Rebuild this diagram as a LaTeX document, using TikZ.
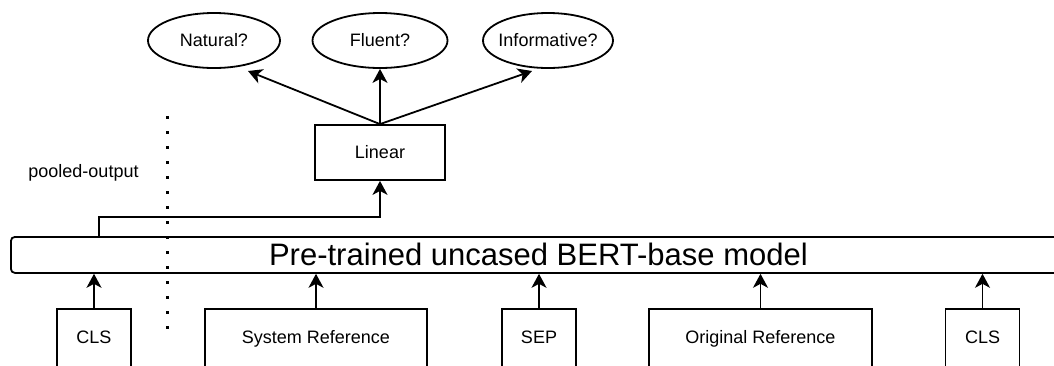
\documentclass[tikz,border=0pt]{standalone}
\usepackage{fontspec}
\setmainfont{Liberation Sans}
\usetikzlibrary{shapes.geometric,arrows.meta}
\begin{document}
\begin{tikzpicture}[x=1pt,y=-1pt, line width=1.8pt,
 every node/.style={font=\fontsize{18}{21}\selectfont},
 box/.style={draw, rectangle, inner sep=0pt},
 tok/.style={box, anchor=base, text height=34.5pt, text depth=41.5pt},
 oval/.style={draw, ellipse, inner sep=0pt, minimum height=55pt},
 arr/.style={-{Stealth[length=14pt,width=15pt,inset=4pt]}}]
\useasboundingbox (0,0) rectangle (1054,365);
% outputs
\node[oval, minimum width=132pt] (nat) at (214,40.5) {\makebox[0pt]{Natural?}};
\node[oval, minimum width=135pt] (flu) at (380,40.5) {\makebox[0pt]{Fluent?}};
\node[oval, minimum width=130pt] (inf) at (548,40.5) {\makebox[0pt]{Informative?}};
\node[box, minimum width=130pt, minimum height=55pt] (lin) at (380,152.5) {Linear};
\coordinate (natTip) at (248,71);
\coordinate (infTip) at (532,71);
\draw[arr] (lin.north) -- (natTip);
\draw[arr] (lin.north) -- (flu.south);
\draw[arr] (lin.north) -- (infTip);
% BERT
\node[draw, rounded corners=4pt, minimum width=1060pt, minimum height=36pt, inner sep=0pt,
      anchor=north west, font=\fontsize{31}{36}\selectfont] (bert) at (10,236) {\hspace*{-5pt}Pre-trained uncased BERT-base model};
% pooled output
\node (pool) at (83.5,173) {pooled-output};
\coordinate (poolStart) at (99,237);
\draw[arr] (poolStart) -- ++(0,-20) -| (lin.south);
% separator
\coordinate (dtop) at (167,116);
\coordinate (dbot) at (167,330);
\draw[line width=3pt, dash pattern=on 3pt off 12pt] (dtop) -- (dbot);
% tokens
\node[tok, minimum width=74pt] (c1) at (94,343.5) {CLS};
\node[tok, minimum width=222pt] (sr) at (316,343.5) {System Reference};
\node[tok, minimum width=74pt] (sep) at (539,343.5) {SEP};
\node[tok, minimum width=223pt] (orr) at (760.5,343.5) {Original Reference};
\node[tok, minimum width=74pt] (c2) at (982.5,343.5) {CLS};
\foreach \n in {c1,sr,sep,orr,c2}
  \draw[arr] (\n.north) -- (\n.north |- bert.south);
\end{tikzpicture}
\end{document}
